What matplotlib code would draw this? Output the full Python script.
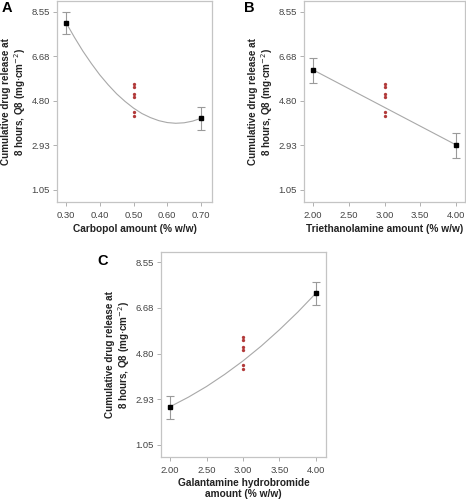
import matplotlib
matplotlib.use('Agg')
import matplotlib.pyplot as plt
import numpy as np

plt.rcParams['font.family'] = ['Liberation Sans', 'DejaVu Sans']

# y ticks shared by all panels
y_ticks = [1.05, 2.93, 4.80, 6.68, 8.55]

# center point replicates (red dots)
center_vals = [5.50, 5.37, 5.08, 4.96, 4.32, 4.15]

# Panel A - Carbopol
a_x = [0.30, 0.70]
a_mean = [8.10, 4.07]
a_low = [7.61, 3.58]
a_high = [8.55, 4.53]
a_center = 0.50
a_curve_x = [0.300, 0.325, 0.350, 0.375, 0.400, 0.425, 0.450, 0.475, 0.500,
             0.525, 0.550, 0.575, 0.600, 0.625, 0.650, 0.675, 0.700]
a_curve_y = [8.10, 7.48, 6.90, 6.38, 5.90, 5.48, 5.10, 4.78, 4.50,
             4.27, 4.10, 3.97, 3.89, 3.86, 3.88, 3.95, 4.07]
a_xticks = [0.30, 0.40, 0.50, 0.60, 0.70]

# Panel B - Triethanolamine
b_x = [2.00, 4.00]
b_mean = [6.11, 2.95]
b_low = [5.57, 2.40]
b_high = [6.62, 3.45]
b_center = 3.00
b_curve_x = [2.00, 4.00]
b_curve_y = [6.11, 2.95]
b_xticks = [2.00, 2.50, 3.00, 3.50, 4.00]

# Panel C - Galantamine hydrobromide
c_x = [2.00, 4.00]
c_mean = [2.62, 7.28]
c_low = [2.12, 6.78]
c_high = [3.08, 7.73]
c_center = 3.00
c_curve_x = [2.00, 2.25, 2.50, 2.75, 3.00, 3.25, 3.50, 3.75, 4.00]
c_curve_y = [2.62, 3.01, 3.45, 3.95, 4.50, 5.11, 5.78, 6.50, 7.28]
c_xticks = [2.00, 2.50, 3.00, 3.50, 4.00]

ylabel = 'Cumulative drug release at\n8 hours, Q8 (mg$\\cdot$cm$^{-2}$)'

fig = plt.figure(figsize=(4.66, 5.0), dpi=100)
W, H = 466.0, 500.0


def make_ax(l, r, t, b):
    return fig.add_axes([l / W, 1 - b / H, (r - l) / W, (b - t) / H])


def draw(ax, width_px, x, mean, low, high, cx, curve_x, curve_y, xticks, xlim, ylim, xlab):
    ax.plot(curve_x, curve_y, color='#a8a8a8', lw=0.8, zorder=1)
    mean = np.array(mean)
    yerr = [mean - np.array(low), np.array(high) - mean]
    ax.errorbar(x, mean, yerr=yerr, fmt='none', ecolor='#9a9a9a',
                elinewidth=0.8, capsize=3, capthick=0.8, zorder=2)
    ax.plot(x, mean, 's', color='black', ms=2.6, zorder=3)
    ax.plot([cx] * len(center_vals), center_vals, 'o', color='#b23a3a',
            ms=2.4, mec='none', zorder=3)
    ax.set_xlim(xlim)
    ax.set_ylim(ylim)
    ax.set_xticks(xticks)
    ax.set_xticklabels(['%.2f' % v for v in xticks])
    ax.set_yticks(y_ticks)
    ax.set_yticklabels(['%.2f' % v for v in y_ticks])
    for s in ax.spines.values():
        s.set_color('#c4c4c4')
        s.set_linewidth(0.9)
    ax.tick_params(length=3, width=0.7, color='#b0b0b0', labelsize=6.8,
                   labelcolor='#444444', pad=2)
    ax.tick_params(axis='x', pad=3.5)
    ax.set_ylabel(ylabel, fontsize=7.1, fontweight='bold', color='#222222',
                  linespacing=1.1)
    ax.yaxis.set_label_coords(-29.0 / width_px, 0.5)
    ax.set_xlabel(xlab, fontsize=7.3, fontweight='bold', color='#222222',
                  labelpad=2.5, linespacing=1.12)


axA = make_ax(57, 212, 1, 202)
draw(axA, 155.0, a_x, a_mean, a_low, a_high, a_center, a_curve_x, a_curve_y,
     a_xticks, (0.2733, 0.7326), (0.544, 9.01), 'Carbopol amount (% w/w)')

axB = make_ax(304, 465, 1, 202)
draw(axB, 161.0, b_x, b_mean, b_low, b_high, b_center, b_curve_x, b_curve_y,
     b_xticks, (1.874, 4.126), (0.544, 9.01), 'Triethanolamine amount (% w/w)')

axC = make_ax(161, 326, 252, 457)
draw(axC, 165.0, c_x, c_mean, c_low, c_high, c_center, c_curve_x, c_curve_y,
     c_xticks, (1.876, 4.138), (0.557, 8.97),
     'Galantamine hydrobromide\namount (% w/w)')

fig.text(2 / W, 1 - 1 / H, 'A', fontsize=10.5, fontweight='bold', va='top')
fig.text(244 / W, 1 - 1 / H, 'B', fontsize=10.5, fontweight='bold', va='top')
fig.text(97 / W, 1 - 254 / H, 'C', fontsize=10.5, fontweight='bold', va='top')

fig.savefig('out.png', dpi=100)
